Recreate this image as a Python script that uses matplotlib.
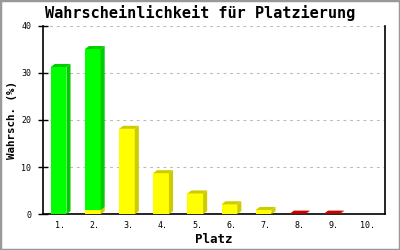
import matplotlib
matplotlib.use("Agg")
import matplotlib.pyplot as plt
from matplotlib.patches import Polygon, Rectangle

places = ["1.", "2.", "3.", "4.", "5.", "6.", "7.", "8.", "9.", "10."]
yellow_vals = [0.0, 0.9, 18.1, 8.7, 4.4, 2.1, 0.9, 0.0, 0.0, 0.0]
green_vals = [31.2, 34.1, 0.0, 0.0, 0.0, 0.0, 0.0, 0.0, 0.0, 0.0]
red_vals = [0.0, 0.0, 0.0, 0.0, 0.0, 0.0, 0.0, 0.12, 0.12, 0.0]
yticks = [0, 10, 20, 30, 40]

series = [
    (yellow_vals, "#ffff00", "#cccc00"),
    (green_vals, "#00ff00", "#00cc00"),
    (red_vals, "#ff0000", "#cc0000"),
]

plt.rcParams['font.family'] = ['DejaVu Sans Mono']

fig = plt.figure(figsize=(4, 2.5), dpi=100)
ax = fig.add_axes([0.108, 0.143, 0.854, 0.755])

ax.set_xlim(-0.5, len(places) - 0.5)
ax.set_ylim(0, 40)

w = 0.46      # bar front width (data units)
dx = 0.12     # depth in x (data units)
dy = 0.65     # depth in y (data units)

for i in range(len(places)):
    base = 0.0
    for vals, front, dark in series:
        v = vals[i]
        if v <= 0:
            continue
        x0 = i - 0.05 - w / 2
        x1 = x0 + w
        y0, y1 = base, base + v
        ax.add_patch(Rectangle((x0, y0), w, v, facecolor=front, edgecolor='none', zorder=3))
        ax.add_patch(Polygon([(x1, y0), (x1 + dx, y0 + dy), (x1 + dx, y1 + dy), (x1, y1)],
                             closed=True, facecolor=dark, edgecolor='none', zorder=3))
        ax.add_patch(Polygon([(x0, y1), (x0 + dx, y1 + dy), (x1 + dx, y1 + dy), (x1, y1)],
                             closed=True, facecolor=dark, edgecolor='none', zorder=3))
        base = y1

ax.set_xticks(range(len(places)))
ax.set_xticklabels(places, fontsize=6)
ax.set_yticks(yticks)
ax.set_yticklabels([str(t) for t in yticks], fontsize=6)
ax.tick_params(axis='x', length=0, pad=5)
ax.tick_params(axis='y', direction='inout', length=7, width=1, pad=5)

ax.yaxis.grid(True, linestyle=(0, (2.5, 3.5)), color='#bbbbbb', linewidth=0.8, zorder=0)
ax.set_axisbelow(True)

for s in ['left', 'bottom', 'right']:
    ax.spines[s].set_color('black')
    ax.spines[s].set_linewidth(1.2)
ax.spines['top'].set_visible(False)

ax.set_xlabel("Platz", fontsize=9, fontweight='bold', labelpad=2)
ax.set_ylabel("Wahrsch. (%)", fontsize=7.8, fontweight='bold', labelpad=3)
fig.text(0.5, 0.948, "Wahrscheinlichkeit für Platzierung", ha='center', va='center',
         fontsize=11, fontweight='bold')

fig.patches.append(Rectangle((0, 0), 1, 1, transform=fig.transFigure, fill=False,
                             edgecolor='#999999', linewidth=2.5))

fig.savefig("out.png", dpi=100)
